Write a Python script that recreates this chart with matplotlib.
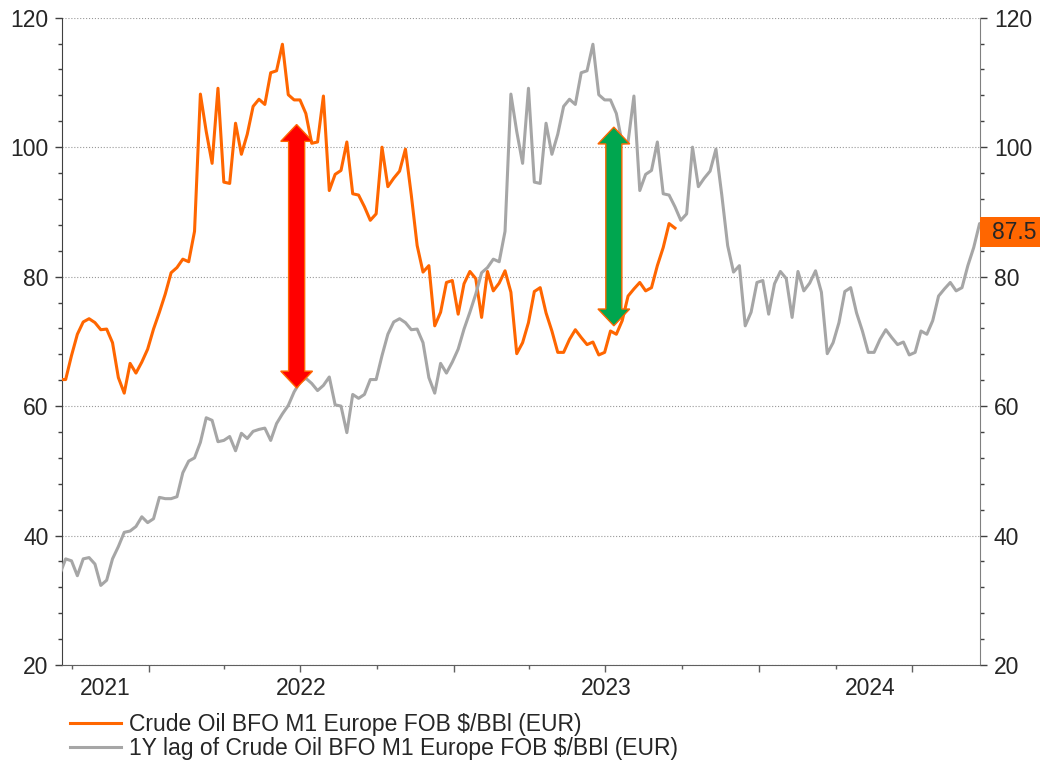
import pandas as pd
import matplotlib
matplotlib.use("Agg")
import matplotlib.pyplot as plt
import matplotlib.dates as mdates
from matplotlib.ticker import MultipleLocator
from matplotlib.patches import Polygon, Rectangle

plt.rcParams['font.family'] = ['Liberation Sans', 'DejaVu Sans']

# weekly (Friday) Brent M1 in EUR per barrel, from 17 Sep 2021
start = '2021-09-17'
brent_eur = [64.1, 64.1, 67.8, 71.1, 73.0, 73.5, 72.9, 71.8, 71.9, 69.8,
             64.4, 62.0, 66.6, 65.1, 66.8, 68.8, 71.9, 74.5, 77.3, 80.6,
             81.4, 82.7, 82.3, 87.0, 108.2, 102.4, 97.5, 109.1, 94.6, 94.4,
             103.7, 98.9, 102.0, 106.3, 107.4, 106.6, 111.5, 111.8, 115.9, 108.1,
             107.3, 107.3, 105.2, 100.6, 100.8, 107.9, 93.3, 95.8, 96.4, 100.8,
             92.8, 92.6, 90.8, 88.7, 89.7, 100.0, 93.9, 95.2, 96.3, 99.7,
             92.6, 84.8, 80.7, 81.7, 72.4, 74.5, 79.1, 79.4, 74.2, 78.9,
             80.8, 79.7, 73.7, 80.8, 77.8, 79.0, 80.9, 77.6, 68.1, 69.8,
             72.9, 77.7, 78.3, 74.4, 71.6, 68.3, 68.3, 70.3, 71.8, 70.6,
             69.5, 69.9, 67.9, 68.3, 71.6, 71.1, 73.2, 77.0, 78.1, 79.1,
             77.8, 78.3, 81.7, 84.5, 88.2, 87.5]
# the year before (only seen through the lagged line)
brent_eur_prior = [34.0, 36.4, 36.1, 33.8, 36.4, 36.6, 35.6, 32.3, 33.1, 36.4,
                   38.3, 40.5, 40.7, 41.4, 42.9, 42.0, 42.6, 45.9, 45.7, 45.7,
                   46.0, 49.7, 51.5, 52.0, 54.4, 58.2, 57.8, 54.5, 54.7, 55.3,
                   53.1, 55.8, 55.0, 56.1, 56.4, 56.6, 54.7, 57.3, 58.8, 60.1,
                   62.2, 63.7, 64.3, 63.5, 62.4, 63.2, 64.5, 60.2, 60.0, 55.9,
                   61.8, 61.2, 61.8]

# arrow annotations: date, low, high
red_arrow = ('2022-06-27', 62.8, 103.5)
green_arrow = ('2023-07-11', 72.4, 103.1)

label_now = 'Crude Oil BFO M1 Europe FOB \\$/BBl (EUR)'
label_lag = '1Y lag of Crude Oil BFO M1 Europe FOB \\$/BBl (EUR)'

orange = '#FF6600'
grey = '#A6A6A6'
txt = '#262626'
fs = 16.5

dates = pd.date_range(start, periods=len(brent_eur), freq='W-FRI')
lag_dates = pd.date_range(start, periods=len(brent_eur_prior) + len(brent_eur), freq='W-FRI')
lag_values = brent_eur_prior + brent_eur

fig = plt.figure(figsize=(10.4, 7.63), dpi=100)
ax = fig.add_axes([0.0599, 0.1284, 0.8824, 0.8484])

ax.plot(dates, brent_eur, color=orange, lw=2.2, label=label_now, zorder=3)
ax.plot(lag_dates, lag_values, color=grey, lw=2.2, label=label_lag, zorder=3)

x0, x1 = pd.Timestamp('2021-09-20'), pd.Timestamp('2024-09-20 12:00')
ax.set_xlim(x0, x1)
ax.set_ylim(20, 120)


def double_arrow(ax, day, lo, hi, color):
    x = mdates.date2num(pd.Timestamp(day))
    sw, hw, hl = 9.6, 19.0, 2.6
    pts = [(x, hi), (x + hw, hi - hl), (x + sw, hi - hl), (x + sw, lo + hl),
           (x + hw, lo + hl), (x, lo), (x - hw, lo + hl), (x - sw, lo + hl),
           (x - sw, hi - hl), (x - hw, hi - hl)]
    ax.add_patch(Polygon(pts, closed=True, facecolor=color, edgecolor=orange,
                         lw=1.0, zorder=5))


double_arrow(ax, *red_arrow, '#FF0000')
double_arrow(ax, *green_arrow, '#00A64F')

# axes styling
ax.spines['top'].set_visible(False)
ax.spines['left'].set_color('#404040')
ax.spines['bottom'].set_color('#606060')
ax.spines['right'].set_color('#808080')

ax.yaxis.set_major_locator(MultipleLocator(20))
ax.yaxis.set_minor_locator(MultipleLocator(4))
ax.tick_params(axis='y', which='both', left=True, right=True, labelleft=True,
               labelright=True, labelsize=fs, labelcolor=txt, color='#404040', pad=5)
ax.tick_params(axis='y', which='major', length=5, width=1)
ax.tick_params(axis='y', which='minor', length=3, width=1)
ax.grid(axis='y', which='major', color='#999999', ls=':', lw=0.8, zorder=0)

ax.xaxis.set_major_locator(mdates.MonthLocator(bymonth=[1, 7]))
ax.xaxis.set_minor_locator(mdates.MonthLocator(bymonth=[4, 10]))
ax.tick_params(axis='x', which='major', length=5, width=1, color='#606060', labelbottom=False)
ax.tick_params(axis='x', which='minor', length=3, width=1, color='#606060', labelbottom=False)

# year labels centred on the visible part of each year
for yr in range(x0.year, x1.year + 1):
    a = max(pd.Timestamp(f'{yr}-01-01'), x0)
    b = min(pd.Timestamp(f'{yr + 1}-01-01'), x1)
    mid = a + (b - a) / 2
    ax.annotate(str(yr), xy=(mdates.date2num(mid), 0), xycoords=('data', 'axes fraction'),
                xytext=(0, -17), textcoords='offset points', ha='center', va='center',
                fontsize=fs, color=txt)

# last value box on the right axis
last = brent_eur[-1]
ax.add_patch(Rectangle((1.0, last - 2.95), 0.066, 4.65, transform=ax.get_yaxis_transform(),
                       facecolor=orange, edgecolor='none', clip_on=False, zorder=6))
ax.text(1.0127, last - 0.65, f'{last:.1f}', transform=ax.get_yaxis_transform(),
        ha='left', va='center', fontsize=fs, color=txt, zorder=7)

fig.legend(loc='upper left', bbox_to_anchor=(0.0675, 0.066), frameon=False,
           fontsize=fs, handlelength=2.2, handletextpad=0.38, labelspacing=0.08,
           borderpad=0, borderaxespad=0, labelcolor=txt)

fig.savefig('out.png', dpi=100)
